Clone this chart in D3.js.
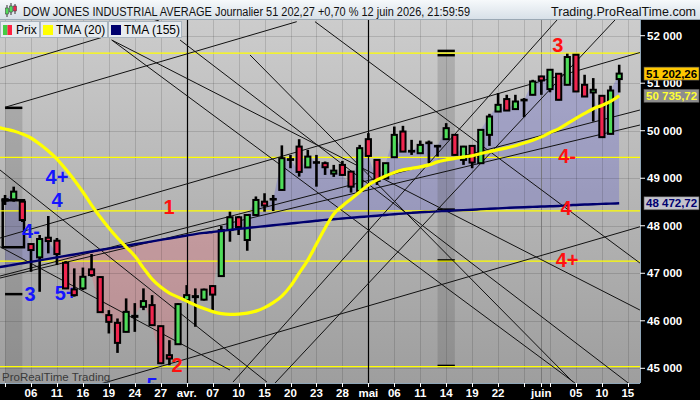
<!DOCTYPE html>
<html><head><meta charset="utf-8">
<script src="https://cdn.jsdelivr.net/npm/d3@7"></script>
<style>body{margin:0;background:#000;}svg{display:block;font-family:"Liberation Sans",Arial,sans-serif;}</style>
</head><body><svg id="c" width="700" height="400"></svg>
<script>
// ---------------- DATA ----------------
const days = ["03-02","03-03","03-04","03-05","03-06","03-09","03-10","03-11","03-12","03-13",
"03-16","03-17","03-18","03-19","03-20","03-23","03-24","03-25","03-26","03-27","03-30","03-31",
"04-01","04-02","04-06","04-07","04-08","04-09","04-10","04-13","04-14","04-15","04-16","04-17",
"04-20","04-21","04-22","04-23","04-24","04-27","04-28","04-29","04-30","05-01","05-04","05-05",
"05-06","05-07","05-08","05-11","05-12","05-13","05-14","05-15","05-18","05-19","05-20","05-21",
"05-22","05-26","05-27","05-28","05-29","06-01","06-02","06-03","06-04","06-05","06-08","06-09",
"06-10","06-11","06-12","06-15"];
// candles: 03-03 .. 06-12
const open = [48560,48556,48507,47615,47335,47748,47685,47221,46660,46682,
 47082,46920,46119,45956,45767,46083,46294,46330,45887,45276,
 45507,46435,46498,46445,46730,46941,47910,48178,47700,48227,
 48507,48556,48754,49386,49666,49228,49330,49317,49097,49281,
 49139,48733,49822,49386,48996,49443,49983,49576,49527,49744,
 49671,49822,49913,49386,49681,49317,49913,50404,50666,50455,
 50651,50756,51142,50876,51199,50967,51599,50967,50805,50735,
 49934,51087];
const high = [48648,48823,48543,47630,47805,48206,47742,47257,47103,47120,
 47405,46930,46224,46049,46471,46372,46682,46540,45897,45592,
 46372,46751,46682,46677,46751,47995,48296,48206,48248,48617,
 48684,48648,49692,49491,49822,49597,49491,49352,49281,49365,
 49154,49702,49949,49397,49323,50088,50103,49808,49793,49793,
 49702,50160,49924,49681,49692,50029,50356,50792,50756,50756,
 50687,51072,51157,51294,51209,51621,51610,51178,51108,50746,
 50946,51389];
const low = [48438,48507,48079,47031,46610,47419,47173,46667,46508,46646,
 46926,46171,45733,45324,45760,45767,46224,45897,45096,45065,
 45497,46400,45874,46424,46188,46930,47664,47805,47474,48216,
 48296,48311,48743,49211,49034,49218,48823,49070,49028,49049,
 48697,48722,49460,48859,48986,49439,49555,49491,49513,49317,
 49456,49818,49481,49281,49211,49302,49681,50398,50419,50440,
 50286,50746,50756,50809,50640,50956,50820,50714,50193,49854,
 49924,50805];
const close = [48530,48718,48121,47489,47721,47678,47405,46682,46540,46926,
 46962,46182,45978,45535,46188,46104,46414,45908,45107,45206,
 46351,46540,46519,46656,46551,47910,48178,47974,48227,48543,
 48427,48564,49422,49401,49133,49456,49338,49232,49160,49070,
 48823,49633,49470,48943,49317,49913,49561,49561,49702,49751,
 49681,50054,49491,49666,49330,50018,50299,50545,50425,50615,
 50640,51037,51058,51283,50651,51551,50826,50720,50862,49865,
 50846,51202.27];
// moving averages: 03-02 .. 06-12
const tma20 = [50078,
 50036,49994,49931,49847,49720,49573,49404,49194,48963,48710,
 48436,48184,47953,47742,47552,47362,47109,46877,46709,46583,
 46498,46414,46330,46256,46193,46150,46134,46140,46161,46203,
 46277,46382,46519,46730,47004,47278,47615,47953,48248,48417,
 48564,48712,48859,48964,49049,49123,49175,49207,49239,49281,
 49344,49386,49418,49449,49470,49520,49560,49600,49640,49685,
 49740,49800,49870,49960,50040,50150,50260,50365,50463,50533,
 50617,50735.72];
const tma155 = [47118,
 47149,47179,47211,47242,47272,47303,47335,47366,47396,47428,
 47459,47489,47520,47550,47579,47611,47641,47672,47702,47733,
 47763,47794,47824,47849,47870,47891,47913,47934,47953,47972,
 47991,48010,48029,48047,48066,48085,48104,48123,48138,48153,
 48168,48183,48197,48212,48227,48242,48256,48271,48284,48292,
 48303,48311,48322,48330,48338,48349,48357,48366,48376,48385,
 48391,48397,48404,48410,48416,48430,48438,48446,48453,48460,
 48466,48472.72];
const tickDays   = ["03-03","03-06","03-11","03-16","03-19","03-24","03-27","04-01","04-07","04-10","04-15","04-20","04-23","04-28","05-01","05-06","05-11","05-14","05-19","05-22","05-28","06-01","06-02","06-05","06-10","06-15"];
const tickLabels = ["","06","11","16","19","24","27","avr.","07","10","15","20","23","28","mai","06","11","14","19","22","","juin","","05","10","15"];
const priceTicks = [45000,46000,47000,48000,49000,50000,51000,52000];
const levels = [51635,49440,48315,47255,45035];
// trend lines: [dayIndex1, price1, dayIndex2, price2]
const trendLines = [
 [0.42,51314,18.80,52330],
 [0.99,50493,34.72,52295],
 [0.42,47742,74.40,51646],
 [11.98,44668,74.40,47979],
 [0.42,46942,74.40,50436],
 [0.42,46900,74.40,50120],
 [13.33,51909,74.40,46226],
 [13.33,51909,66.89,44689],
 [21.23,51909,73.25,44662],
 [36.83,52295,74.40,47215],
 [29.32,51594,66.66,44710],
 [32.21,44689,71.51,52330],
 [27.35,44710,64.81,52330],
 [0.42,49173,31.28,44710],
 [0.42,47558,27.0,44964]
];
// highlighted time bands [dayIndexStart, dayIndexEnd, priceTop, priceBottom] and their level marks
const bands = [[1,3,50482,44600],[51,53,51660,45035]];
const bandMarks = [[1,3,50482],[1,3,46561],[51,53,51680],[51,53,51590],[51,53,48340],[51,53,47270],[51,53,45050]];
const boxes = [[0.73,48537,3.19,47548]];
// wave annotations [text, dayIndex, price, group, layer]
const notes = [["4+",7.0,49026,"b","top"],["4",7.0,48541,"b","top"],["4-",4.0,47889,"b","top"],["3",3.9,46563,"b","top"],["5+",8.05,46584,"b","under"],["5",18.0,44650,"b","top"],
 ["1",19.95,48394,"r","top"],["2",20.9,45070,"r","top"],["3",64.9,51804,"r","top"],["4-",65.97,49468,"r","top"],["4",65.85,48373,"r","top"],["4+",65.97,47279,"r","top"]];
const lastPrice = 51202.26, lastTma20 = 50735.72, lastTma155 = 48472.72;
const title = "DOW JONES INDUSTRIAL AVERAGE Journalier 51 202,27 +0,70 % 12 juin 2026, 21:59:59";

// ---------------- DRAW ----------------
const svg = d3.select("#c");
const PL=0, PR=640, PT=20, PB=383;
const fr = d3.formatLocale({decimal:",",thousands:"\u00a0",grouping:[3],currency:["","€"]});
const fmt0 = fr.format(",.0f"), fmt2 = fr.format(",.2f");
const xi = d3.scaleLinear().domain([0, days.length-1]).range([-3.6, 627.85]);
const x = d => xi(days.indexOf(d));
const y = d3.scaleLinear().domain([45000,52000]).range([368.3,35.7]);
const defs = svg.append("defs");
const g1 = defs.append("linearGradient").attr("id","bg").attr("x1",0).attr("x2",0).attr("y1",0).attr("y2",1);
g1.append("stop").attr("offset","0%").attr("stop-color","#cccccc");
g1.append("stop").attr("offset","100%").attr("stop-color","#9e9e9e");
const g2 = defs.append("linearGradient").attr("id","hd").attr("x1",0).attr("x2",0).attr("y1",0).attr("y2",1);
g2.append("stop").attr("offset","0%").attr("stop-color","#f6f9fb");
g2.append("stop").attr("offset","100%").attr("stop-color","#d6dfe7");
defs.append("clipPath").attr("id","plot").append("rect").attr("x",PL).attr("y",PT).attr("width",PR-PL).attr("height",PB-PT);

svg.append("rect").attr("width",700).attr("height",400).attr("fill","#000");
svg.append("rect").attr("x",PL).attr("y",PT).attr("width",PR-PL).attr("height",PB-PT).attr("fill","url(#bg)");

const plot = svg.append("g").attr("clip-path","url(#plot)");

// fill between close and TMA155
const pts = close.map((c,i)=>({k:i+1,c:c,t:tma155[i+1]}));
const abv = defs.append("clipPath").attr("id","abv");
abv.append("path").attr("d", d3.area().x(d=>xi(d.k)).y0(0).y1(d=>y(d.t))(pts));
const blw = defs.append("clipPath").attr("id","blw");
blw.append("path").attr("d", d3.area().x(d=>xi(d.k)).y0(d=>y(d.t)).y1(400)(pts));
const fillArea = d3.area().x(d=>xi(d.k)).y0(d=>y(d.t)).y1(d=>y(d.c));
plot.append("path").attr("d",fillArea(pts)).attr("fill","rgb(95,95,205)").attr("fill-opacity",0.32).attr("clip-path","url(#abv)");
plot.append("path").attr("d",fillArea(pts)).attr("fill","rgb(232,105,118)").attr("fill-opacity",0.32).attr("clip-path","url(#blw)");

// grid
plot.selectAll(".gy").data(priceTicks).join("line").attr("x1",PL).attr("x2",PR)
 .attr("y1",d=>Math.round(y(d))+0.5).attr("y2",d=>Math.round(y(d))+0.5).attr("stroke","#000").attr("stroke-opacity",0.13);
plot.selectAll(".gx").data(tickDays).join("line").attr("y1",PT).attr("y2",PB)
 .attr("x1",d=>Math.round(x(d))+0.5).attr("x2",d=>Math.round(x(d))+0.5)
 .attr("stroke",d=>d==="06-01"?"#6e6e6e":"#000").attr("stroke-opacity",d=>d==="06-01"?0.8:0.13);

// bands
plot.selectAll(".band").data(bands).join("rect")
 .attr("x",d=>xi(d[0])).attr("width",d=>xi(d[1])-xi(d[0]))
 .attr("y",d=>y(d[2])).attr("height",d=>y(d[3])-y(d[2])).attr("fill","#505050").attr("fill-opacity",0.22);
plot.selectAll(".bm").data(bandMarks).join("line")
 .attr("x1",d=>xi(d[0])).attr("x2",d=>xi(d[1])).attr("y1",d=>y(d[2])).attr("y2",d=>y(d[2]))
 .attr("stroke","#000").attr("stroke-width",2.5);
plot.selectAll(".box").data(boxes).join("rect")
 .attr("x",d=>xi(d[0])).attr("width",d=>xi(d[2])-xi(d[0])).attr("y",d=>y(d[1])).attr("height",d=>y(d[3])-y(d[1]))
 .attr("fill","none").attr("stroke","#000").attr("stroke-width",2.5);

// levels
plot.selectAll(".lv").data(levels).join("line").attr("x1",PL).attr("x2",PR)
 .attr("y1",d=>y(d)).attr("y2",d=>y(d)).attr("stroke","#ffff00").attr("stroke-width",1.3);

// month separators
plot.selectAll(".ms").data(["04-01","05-01"]).join("line").attr("y1",PT).attr("y2",PB)
 .attr("x1",d=>Math.round(x(d))+0.5).attr("x2",d=>Math.round(x(d))+0.5).attr("stroke","#000").attr("stroke-width",1.2);

// trend lines
plot.selectAll(".tl").data(trendLines).join("line")
 .attr("x1",d=>xi(d[0])).attr("y1",d=>y(d[1])).attr("x2",d=>xi(d[2])).attr("y2",d=>y(d[3]))
 .attr("stroke","#111").attr("stroke-width",1);

const noteText = (sel) => sel.text(d=>d[0])
 .attr("x",d=>xi(d[1])).attr("y",d=>y(d[2])).attr("text-anchor","middle").attr("dominant-baseline","central")
 .attr("font-size",20).attr("font-weight","bold").attr("fill",d=>d[3]==="b"?"#1414ff":"#ff1010");
plot.append("g").selectAll("text").data(notes.filter(d=>d[4]==="under")).join("text").call(noteText);

// candles
const cd = close.map((c,i)=>({k:i+1,o:open[i],h:high[i],l:low[i],c:c}));
const cg = plot.append("g");
cg.selectAll(".wk").data(cd).join("line").attr("x1",d=>xi(d.k)).attr("x2",d=>xi(d.k))
 .attr("y1",d=>y(d.h)).attr("y2",d=>y(d.l)).attr("stroke","#000").attr("stroke-width",2.6);
cg.selectAll(".bd").data(cd).join("rect")
 .attr("x",d=>xi(d.k)-2.6).attr("width",5.2)
 .attr("y",d=>y(Math.max(d.o,d.c))).attr("height",d=>Math.max(0.6,Math.abs(y(d.o)-y(d.c))))
 .attr("fill",d=>d.c>=d.o?"#4fdc5a":"#f0264f").attr("stroke","#000").attr("stroke-width",2);

// TMA lines
const ln = d3.line().x((d,i)=>xi(i)).y(d=>y(d)).curve(d3.curveMonotoneX);
plot.append("path").attr("d",ln(tma155)).attr("fill","none").attr("stroke","#00006e").attr("stroke-width",2.4);
plot.append("path").attr("d",ln(tma20)).attr("fill","none").attr("stroke","#ffff00").attr("stroke-width",3.2);

// annotations on top
plot.append("g").selectAll("text").data(notes.filter(d=>d[4]==="top")).join("text").call(noteText);

// watermark
svg.append("text").attr("x",2).attr("y",381).text("ProRealTime Trading").attr("font-size",11.5).attr("fill","#3a3a3a");

// axes frames
svg.append("line").attr("x1",PR+0.5).attr("x2",PR+0.5).attr("y1",PT).attr("y2",PB).attr("stroke","#8fa6b8");
svg.append("line").attr("x1",0).attr("x2",PR).attr("y1",PB+0.5).attr("y2",PB+0.5).attr("stroke","#8fa6b8");

// right axis
const ya = svg.append("g");
ya.selectAll(".yt").data(priceTicks).join("line").attr("x1",PR).attr("x2",PR+5).attr("y1",d=>y(d)).attr("y2",d=>y(d)).attr("stroke","#fff");
ya.selectAll(".yl").data(priceTicks).join("text").attr("x",PR+7).attr("y",d=>y(d)).attr("dominant-baseline","central")
 .text(d=>fmt0(d)).attr("fill","#fff").attr("font-size",11.5).attr("font-weight","bold");
const vb = [[lastTma155,"#c4c4cc","#000070"],[lastTma20,"#8e8e8e","#ffff33"],[lastPrice,"#ffc800","#000"]];
vb.forEach(v=>{
 const yy=y(v[0]);
 ya.append("rect").attr("x",PR+4).attr("y",yy-6.5).attr("width",55).attr("height",13).attr("fill",v[1]).attr("stroke","#555").attr("stroke-width",0.6);
 ya.append("text").attr("x",PR+6).attr("y",yy).attr("dominant-baseline","central").text(fmt2(v[0])).attr("fill",v[2]).attr("font-size",11.5).attr("font-weight","bold");
});

// bottom axis
const xa = svg.append("g");
xa.selectAll(".xt").data(tickDays).join("line").attr("x1",d=>Math.round(x(d))+0.5).attr("x2",d=>Math.round(x(d))+0.5)
 .attr("y1",PB).attr("y2",PB+4).attr("stroke","#fff");
xa.selectAll(".xl").data(tickDays).join("text").attr("x",d=>x(d)).attr("y",397).attr("text-anchor","middle")
 .text((d,i)=>tickLabels[i]).attr("fill","#fff").attr("font-size",11.5).attr("font-weight","bold");

// header
svg.append("rect").attr("x",0).attr("y",0).attr("width",700).attr("height",20).attr("fill","url(#hd)");
svg.append("line").attr("x1",0).attr("x2",700).attr("y1",19.5).attr("y2",19.5).attr("stroke","#9aa8b4");
const ic = svg.append("g");
[[7,5,14,8,12,"#4fdc5a"],[11,3,12,6,10,"#4fdc5a"],[15,4,11,6,9,"#f0264f"]].forEach(c=>{
 ic.append("line").attr("x1",c[0]).attr("x2",c[0]).attr("y1",c[1]).attr("y2",c[2]+3).attr("stroke","#333");
 ic.append("rect").attr("x",c[0]-1.5).attr("y",c[3]).attr("width",3).attr("height",c[4]-c[3]+2).attr("fill",c[5]).attr("stroke","#333").attr("stroke-width",0.5);
});
svg.append("text").attr("x",23).attr("y",15.5).text(title).attr("font-size",12.5).attr("fill","#111")
 .attr("textLength",447).attr("lengthAdjust","spacingAndGlyphs");
svg.append("text").attr("x",696).attr("y",15.5).attr("text-anchor","end").text("Trading.ProRealTime.com").attr("font-size",12.5).attr("fill","#111");

// legend
const lg = [["Prix",0,39],["TMA (20)",40,67],["TMA (155)",108,73]];
lg.forEach((l,i)=>{
 svg.append("rect").attr("x",l[1]+0.5).attr("y",21.5).attr("width",l[2]).attr("height",16).attr("fill","#e7ebef").attr("stroke","#a9b4be");
 if(i===0){
  svg.append("rect").attr("x",l[1]+3).attr("y",25).attr("width",4.5).attr("height",10).attr("fill","#44cc44");
  svg.append("rect").attr("x",l[1]+7.5).attr("y",25).attr("width",4.5).attr("height",10).attr("fill","#ff2040");
 } else {
  svg.append("rect").attr("x",l[1]+3).attr("y",25).attr("width",10).attr("height",10).attr("fill",i===1?"#ffff00":"#00006e");
 }
 svg.append("text").attr("x",l[1]+16).attr("y",34).text(l[0]).attr("font-size",12).attr("fill","#000");
});
</script></body></html>
